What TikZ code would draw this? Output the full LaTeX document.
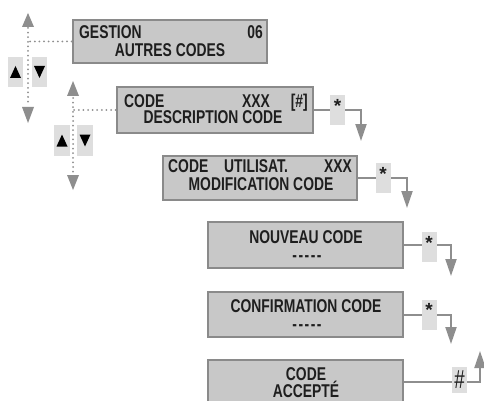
\documentclass[tikz,border=0pt]{standalone}
\usepackage{fontspec}
\usetikzlibrary{arrows.meta}
\newfontfamily\cond{Liberation Sans Bold}[FakeStretch=0.75]
\newfontfamily\condreg{Liberation Sans}[FakeStretch=0.72]
\newfontfamily\plainsans{Liberation Sans Bold}
\definecolor{boxfill}{HTML}{C8C8C8}
\definecolor{boxline}{HTML}{8A8A8A}
\definecolor{keyfill}{HTML}{DEDEDE}
\definecolor{arrgray}{HTML}{8E8E8E}
\definecolor{txt}{HTML}{1E1E1E}
\begin{document}
\begin{tikzpicture}[x=1pt,y=-1pt,
  screen/.style={draw=boxline,fill=boxfill,line width=2.8pt,inner sep=0pt},
  keybox/.style={fill=keyfill,inner sep=0pt,minimum width=15pt,minimum height=30pt},
  lbl/.style={inner sep=0pt,text=txt,font=\cond\fontsize{18.5}{19}\selectfont},
  conn/.style={draw=arrgray,line width=2pt,-{Triangle[length=17pt,width=11pt]}},
  dotline/.style={draw=arrgray,line width=2pt,line cap=round,dash pattern=on 0pt off 4.6pt},
  navhead/.style={fill=arrgray}
]
\clip (0,0) rectangle (484,401);
\fill[white] (0,0) rectangle (484,401);

% screens
\node[screen,minimum width=194pt,minimum height=43pt] (b1) at (170,41.5) {};
\node[screen,minimum width=196pt,minimum height=46pt] (b2) at (215,110) {};
\node[screen,minimum width=194pt,minimum height=44pt] (b3) at (260,178) {};
\node[screen,minimum width=195pt,minimum height=46pt] (b4) at (305.5,245) {};
\node[screen,minimum width=195pt,minimum height=45pt] (b5) at (305.5,314.5) {};
\node[screen,minimum width=195pt,minimum height=46pt] (b6) at (305.5,383) {};

% connector end points
\coordinate (t2) at (361,141);
\coordinate (t3) at (407,208);
\coordinate (t4) at (451,276);
\coordinate (t5) at (451,344);
\coordinate (t6) at (480,351);

\draw[conn] (b2.east) -| (t2);
\draw[conn] (b3.east) -| (t3);
\draw[conn] (b4.east) -| (t4);
\draw[conn] (b5.east) -| (t5);
\draw[conn] (b6.east |- 0,382) -| (t6);

% key boxes on connectors
\node[keybox] (k2) at (337.5,110) {};
\node[keybox] (k3) at (383,178) {};
\node[keybox] (k4) at (429,247) {};
\node[keybox] (k5) at (429,314.5) {};
\node[keybox,minimum height=26pt] (k6) at (459.5,380) {};
\foreach \k in {k2,k3,k4,k5}
  \node[inner sep=0pt,text=txt,font=\plainsans\fontsize{19}{19}\selectfont,anchor=north] (s\k) at ([yshift=-4]\k.north) {*};
\node[inner sep=0pt,text=txt,font=\condreg\fontsize{26}{26}\selectfont] (hash) at (k6.center) {\#};

% navigation 1
\node[keybox] (ku1) at (15.5,72) {};
\node[keybox] (kd1) at (39.5,72) {};
\fill[black] ([shift={(0,-6)}]ku1.center) -- ([shift={(5.5,6)}]ku1.center) -- ([shift={(-5.5,6)}]ku1.center) -- cycle;
\fill[black] ([shift={(0,6)}]kd1.center) -- ([shift={(5.5,-6)}]kd1.center) -- ([shift={(-5.5,-6)}]kd1.center) -- cycle;
\coordinate (n1) at (28,41.5);
\coordinate (n1top) at (28,28);
\coordinate (n1bot) at (28,106);
\draw[dotline] (b1.west) -- (n1);
\draw[dotline] (n1top) -- (n1bot);
\fill[navhead] (28,13) -- (34,27) -- (22,27) -- cycle;
\fill[navhead] (28,123) -- (34,107) -- (22,107) -- cycle;

% navigation 2
\node[keybox,minimum width=16pt,minimum height=31pt] (ku2) at (62,140.5) {};
\node[keybox,minimum width=16pt,minimum height=31pt] (kd2) at (85,140.5) {};
\fill[black] ([shift={(0,-6)}]ku2.center) -- ([shift={(5.5,6)}]ku2.center) -- ([shift={(-5.5,6)}]ku2.center) -- cycle;
\fill[black] ([shift={(0,6)}]kd2.center) -- ([shift={(5.5,-6)}]kd2.center) -- ([shift={(-5.5,-6)}]kd2.center) -- cycle;
\coordinate (n2) at (73,110);
\coordinate (n2top) at (73,98);
\coordinate (n2bot) at (73,175);
\draw[dotline] (b2.west) -- (n2);
\draw[dotline] (n2top) -- (n2bot);
\fill[navhead] (73,81) -- (79,96) -- (67,96) -- cycle;
\fill[navhead] (73,190) -- (79,175) -- (67,175) -- cycle;

% texts
\node[lbl,anchor=base west] (g1) at (79,39) {GESTION};
\node[lbl,anchor=base east] (g2) at (263,39) {06};
\node[lbl,anchor=base] (g3) at (170,57) {AUTRES CODES};

\node[lbl,anchor=base west] (d1) at (124,107) {CODE};
\node[lbl,anchor=base west] (d2) at (242,107) {XXX};
\node[lbl,anchor=base east] (d3) at (308,107) {[\#]};
\node[lbl,anchor=base] (d4) at (213,124) {DESCRIPTION CODE};

\node[lbl,anchor=base west] (m1) at (168,172) {CODE};
\node[lbl,anchor=base west] (m2) at (224,172) {UTILISAT.};
\node[lbl,anchor=base east] (m3) at (352,172) {XXX};
\node[lbl,anchor=base] (m4) at (261,190) {MODIFICATION CODE};

\node[lbl,anchor=base] (nc1) at (306,243) {NOUVEAU CODE};
\node[lbl,anchor=base] (nc2) at (307,261) {{-}\kern1.5pt{-}\kern1.5pt{-}\kern1.5pt{-}\kern1.5pt{-}};

\node[lbl,anchor=base] (cc1) at (306,312) {CONFIRMATION CODE};
\node[lbl,anchor=base] (cc2) at (307,330) {{-}\kern1.5pt{-}\kern1.5pt{-}\kern1.5pt{-}\kern1.5pt{-}};

\node[lbl,anchor=base] (ca1) at (306,380) {CODE};
\node[lbl,anchor=base] (ca2) at (306,397) {ACCEPTÉ};
\end{tikzpicture}
\end{document}
